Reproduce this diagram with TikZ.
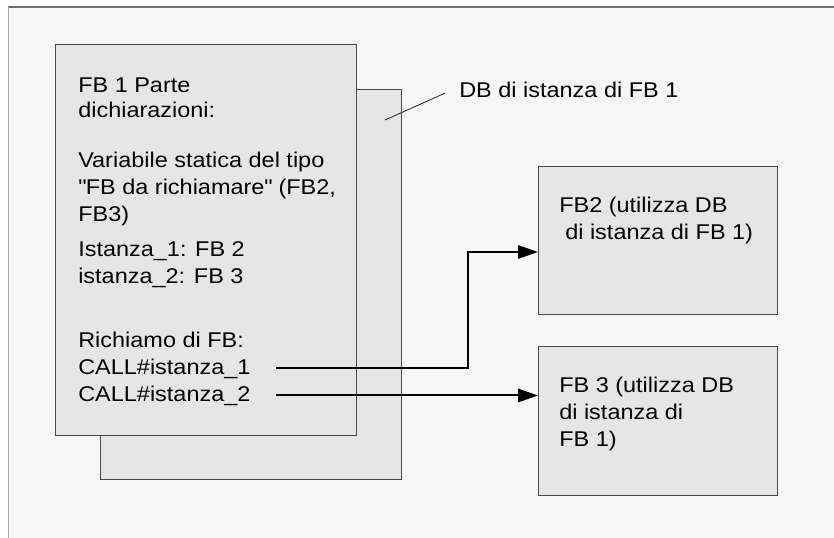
\documentclass[tikz,border=0pt]{standalone}
\usepackage{fontspec}
\setmainfont{Liberation Sans}[FakeStretch=1.1]
\usetikzlibrary{arrows.meta}

\definecolor{pagebg}{HTML}{F7F7F7}
\definecolor{boxfill}{HTML}{E6E6E6}
\definecolor{boxline}{HTML}{4A4A4A}
\definecolor{frametop}{HTML}{6E6E6E}
\definecolor{frameleft}{HTML}{ABABAB}

\tikzset{
  blockbox/.style={draw=boxline, line width=0.75pt, fill=boxfill, inner sep=0pt, outer sep=0pt},
  % base west = baseline of the last line
  txt/.style={anchor=base west, align=left, inner sep=0pt, font=\fontsize{16}{20.25}\selectfont},
  callline/.style={line width=1.5pt, -{Triangle[length=15pt,width=10pt]}},
  pin/.style={line width=0.6pt, draw=black!85},
}

\begin{document}
\begin{tikzpicture}[x=0.75pt, y=-0.75pt]

  \useasboundingbox (0,0) rectangle (834,538);
  \fill[white] (0,0) rectangle (834,538);
  \fill[pagebg] (8,7) rectangle (834,538);
  \draw[frametop, line width=1pt] (8,7) -- (834,7);
  \draw[frameleft, line width=0.75pt] (8,7) -- (8,538);

  % instance DB lies behind FB 1
  \node[blockbox, minimum width=225.75pt, minimum height=291.75pt] (db) at (250.5,284.5) {};
  \node[blockbox, minimum width=225.75pt, minimum height=292.5pt] (fb1) at (205.5,240) {};

  \node[blockbox, minimum width=179.25pt, minimum height=110.25pt] (fb2) at (657.5,240.5) {};
  \node[blockbox, minimum width=179.25pt, minimum height=111.75pt] (fb3) at (657.5,420.5) {};

  % declaration part of FB 1
  \node[txt] (fbhead) at (78,118) {FB 1 Parte\\[-1.5pt]dichiarazioni:};
  \node[txt] (fbstat) at (78,222) {Variabile statica del tipo\\\textquotedbl FB da richiamare\textquotedbl{} (FB2,\\FB3)};
  \node[txt] (fbinst) at (78,283) {Istanza\_1: FB 2\\istanza\_2: FB 3};
  \node[txt] (fbcall) at (78,347) {Richiamo di FB:};
  \node[txt] (call1) at (78,374) {CALL\#istanza\_1};
  \node[txt] (call2) at (78,401) {CALL\#istanza\_2};

  \node[txt] (dblabel) at (459,98) {DB di istanza di FB 1};
  \coordinate (dbpin) at (385,120);
  \draw[pin] (dbpin) -- ([xshift=-10.5pt,yshift=1pt]dblabel.mid west);

  \node[txt] (fb2txt) at (559,239) {FB2 (utilizza DB\\\hspace*{4.5pt}di istanza di FB 1)};
  \node[txt] (fb3txt) at (559,446) {FB 3 (utilizza DB\\di istanza di\\FB 1)};

  % calls
  \coordinate (bend) at (468,252);
  \coordinate (c1) at ([shift={(19pt,1.5pt)}]call1.mid east);
  \coordinate (c2) at ([shift={(19pt,1.5pt)}]call2.mid east);
  \draw[callline] (c1) -| (bend) -- (bend -| fb2.west);
  \draw[callline] (c2) -- (c2 -| fb3.west);

\end{tikzpicture}
\end{document}
